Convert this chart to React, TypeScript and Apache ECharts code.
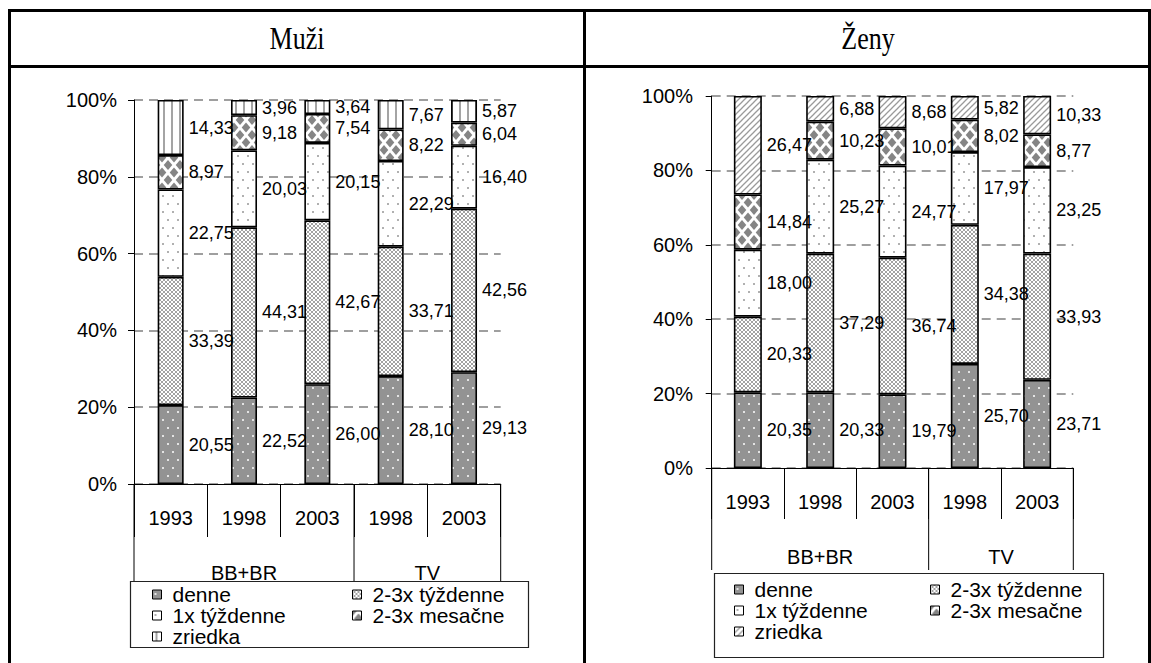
import React, { useEffect, useRef } from "react";
import * as echarts from "echarts";

// ---------- data ----------
const years = ["1993", "1998", "2003", "1998", "2003"];
const groupNames = ["BB+BR", "TV"];
const groupSizes = [3, 2];
const seriesNames = ["denne", "2-3x týždenne", "1x týždenne", "2-3x mesačne", "zriedka"];
const yTicks = [0, 20, 40, 60, 80, 100];
const titles = ["Muži", "Ženy"];

const muziDenne = [20.55, 22.52, 26.0, 28.1, 29.13];
const muziTyzdenne23 = [33.39, 44.31, 42.67, 33.71, 42.56];
const muziTyzdenne1 = [22.75, 20.03, 20.15, 22.29, 16.4];
const muziMesacne = [8.97, 9.18, 7.54, 8.22, 6.04];
const muziZriedka = [14.33, 3.96, 3.64, 7.67, 5.87];

const zenyDenne = [20.35, 20.33, 19.79, 25.7, 23.71];
const zenyTyzdenne23 = [20.33, 37.29, 36.74, 34.38, 33.93];
const zenyTyzdenne1 = [18.0, 25.27, 24.77, 17.97, 23.25];
const zenyMesacne = [14.84, 10.23, 10.01, 8.02, 8.77];
const zenyZriedka = [26.47, 6.88, 8.68, 5.82, 10.33];

// ---------- styles ----------
const FONT = "'Liberation Sans', Arial, sans-serif";
const SERIF = "'Liberation Serif', 'Times New Roman', serif";

function tile(w: number, h: number, draw: (ctx: CanvasRenderingContext2D) => void) {
  const c = document.createElement("canvas");
  c.width = w;
  c.height = h;
  const ctx = c.getContext("2d")!;
  ctx.fillStyle = "#ffffff";
  ctx.fillRect(0, 0, w, h);
  draw(ctx);
  return { image: c.toDataURL("image/png"), repeat: "repeat", imageWidth: w, imageHeight: h } as any;
}

function makePatterns(diagonal: boolean) {
  const denne = tile(10, 16, (ctx) => {
    ctx.fillStyle = "#939393";
    ctx.fillRect(0, 0, 10, 16);
    ctx.fillStyle = "#e4e4e4";
    ctx.fillRect(2, 3, 2, 2);
    ctx.fillRect(7, 11, 2, 2);
  });
  const t23 = tile(4, 4, (ctx) => {
    ctx.fillStyle = "#a2a2a2";
    for (let i = 0; i < 4; i++) {
      ctx.fillRect(i, i, 1, 1);
      ctx.fillRect(3 - i, i, 1, 1);
    }
  });
  const t1 = tile(10, 16, (ctx) => {
    ctx.fillStyle = "#b0b0b0";
    ctx.fillRect(2, 3, 2, 2);
    ctx.fillRect(7, 11, 2, 2);
  });
  const mes = tile(12, 15, (ctx) => {
    ctx.fillStyle = "#858585";
    const dia = (cx: number, cy: number) => {
      ctx.beginPath();
      ctx.moveTo(cx, cy - 5);
      ctx.lineTo(cx + 4.3, cy);
      ctx.lineTo(cx, cy + 5);
      ctx.lineTo(cx - 4.3, cy);
      ctx.closePath();
      ctx.fill();
    };
    dia(0, 0);
    dia(12, 0);
    dia(0, 15);
    dia(12, 15);
    dia(6, 7.5);
  });
  const zr = diagonal
    ? tile(6, 6, (ctx) => {
        ctx.strokeStyle = "#9a9a9a";
        ctx.lineWidth = 1.3;
        ctx.beginPath();
        ctx.moveTo(-1, 7);
        ctx.lineTo(7, -1);
        ctx.moveTo(-4, 4);
        ctx.lineTo(4, -4);
        ctx.moveTo(2, 10);
        ctx.lineTo(10, 2);
        ctx.stroke();
      })
    : tile(8, 4, (ctx) => {
        ctx.fillStyle = "#a4a4a4";
        ctx.fillRect(3, 0, 2, 4);
      });
  return [denne, t23, t1, mes, zr];
}

const fmt = (v: number) => v.toFixed(2).replace(".", ",");

type Cfg = {
  title: string;
  values: number[][];
  diagonal: boolean;
  grid: { left: number; top: number; width: number; height: number };
  barWidth: number;
  yLabelMargin: number;
  tickLen: number;
  groupBottom: number;
  groupLabelY: number;
  legendTop: number;
  legendPitch: number;
  legendCol1: number;
  legendCol2: number;
  box: { x: number; y: number; w: number; h: number };
  borders: { x: number; y: number; w: number; h: number }[];
  titleX: number;
};

const leftCfg: Cfg = {
  title: titles[0],
  values: [muziDenne, muziTyzdenne23, muziTyzdenne1, muziMesacne, muziZriedka],
  diagonal: false,
  grid: { left: 134, top: 100, width: 366.7, height: 384 },
  barWidth: 26,
  yLabelMargin: 17,
  tickLen: 53,
  groupBottom: 581,
  groupLabelY: 573,
  legendTop: 584,
  legendPitch: 20,
  legendCol1: 152,
  legendCol2: 352,
  box: { x: 130.5, y: 581.5, w: 398, h: 66 },
  borders: [
    { x: 8, y: 9, w: 578, h: 3 },
    { x: 8, y: 65, w: 578, h: 3 },
    { x: 8, y: 9, w: 3, h: 654 },
    { x: 583, y: 9, w: 3, h: 654 },
  ],
  titleX: 297,
};

const rightCfg: Cfg = {
  title: titles[1],
  values: [zenyDenne, zenyTyzdenne23, zenyTyzdenne1, zenyMesacne, zenyZriedka],
  diagonal: true,
  grid: { left: 125.7, top: 96, width: 361.6, height: 372 },
  barWidth: 28,
  yLabelMargin: 18.7,
  tickLen: 51,
  groupBottom: 570,
  groupLabelY: 557,
  legendTop: 579,
  legendPitch: 20,
  legendCol1: 148,
  legendCol2: 344,
  box: { x: 128.5, y: 573.5, w: 389, h: 84 },
  borders: [
    { x: 0, y: 9, w: 565, h: 3 },
    { x: 0, y: 65, w: 565, h: 3 },
    { x: 562, y: 9, w: 3, h: 654 },
  ],
  titleX: 282,
};

function renderChart(el: HTMLDivElement, cfg: Cfg) {
  const chart = echarts.init(el, undefined, { renderer: "svg" });
  const pats = makePatterns(cfg.diagonal);
  // 100% stacked: each column is scaled to its own total, labels keep the raw values
  const totals = years.map((_, j) => cfg.values.reduce((s, arr) => s + arr[j], 0));
  const legendCommon = {
    orient: "vertical",
    top: cfg.legendTop,
    itemWidth: 9,
    itemHeight: 9,
    itemGap: 0,
    padding: 0,
    icon: "rect",
    selectedMode: false,
    itemStyle: { borderColor: "#000", borderWidth: 1 },
    textStyle: {
      fontSize: 21,
      fontFamily: FONT,
      color: "#000",
      lineHeight: cfg.legendPitch,
      padding: [0, 0, 0, 6],
    },
  };
  const option: any = {
    animation: false,
    grid: { ...cfg.grid, containLabel: false },
    xAxis: {
      type: "category",
      data: years,
      axisLine: { show: true, lineStyle: { color: "#000", width: 1 } },
      axisTick: { show: true, alignWithLabel: false, length: cfg.tickLen, lineStyle: { color: "#000", width: 1 } },
      axisLabel: { interval: 0, margin: 24, color: "#000", fontSize: 20, fontFamily: FONT },
      splitLine: { show: false },
    },
    yAxis: {
      type: "value",
      min: yTicks[0],
      max: yTicks[yTicks.length - 1],
      interval: yTicks[1] - yTicks[0],
      axisLine: { show: true, lineStyle: { color: "#000", width: 1 } },
      axisTick: { show: true, length: 6, lineStyle: { color: "#000", width: 1 } },
      axisLabel: { formatter: "{value}%", margin: cfg.yLabelMargin, color: "#000", fontSize: 20, fontFamily: FONT },
      splitLine: { show: true, lineStyle: { color: "#808080", type: [9, 6], width: 1.5 } },
    },
    legend: [
      { ...legendCommon, left: cfg.legendCol1, data: [seriesNames[0], seriesNames[2], seriesNames[4]] },
      { ...legendCommon, left: cfg.legendCol2, data: [seriesNames[1], seriesNames[3]] },
    ],
    series: seriesNames.map((name, i) => ({
      name,
      type: "bar",
      stack: "total",
      barWidth: cfg.barWidth,
      data: cfg.values[i].map((v, j) => ({ value: (v / totals[j]) * 100, raw: v })),
      itemStyle: { color: pats[i], borderColor: "#000", borderWidth: 1.6 },
      label: {
        show: true,
        position: "right",
        distance: 5,
        color: "#000",
        fontSize: 18,
        fontFamily: FONT,
        formatter: (p: any) => fmt(p.data.raw),
      },
      emphasis: { disabled: true },
    })),
  };
  chart.setOption(option);

  // axis decorations (group row) computed from the axis scale
  const cx = (i: number) => chart.convertToPixel({ xAxisIndex: 0 }, i) as number;
  const step = cx(1) - cx(0);
  const bound = (k: number) => cx(0) - step / 2 + k * step;
  const axisY = chart.convertToPixel({ yAxisIndex: 0 }, 0) as number;
  const graphic: any[] = [];
  let acc = 0;
  const bounds = [0];
  groupSizes.forEach((s) => {
    acc += s;
    bounds.push(acc);
  });
  bounds.forEach((b) => {
    graphic.push({
      type: "line",
      shape: { x1: bound(b), y1: axisY, x2: bound(b), y2: cfg.groupBottom },
      style: { stroke: "#000", lineWidth: 1 },
    });
  });
  groupNames.forEach((g, gi) => {
    const mid = (bound(bounds[gi]) + bound(bounds[gi + 1])) / 2;
    graphic.push({
      type: "text",
      x: mid,
      y: cfg.groupLabelY,
      style: { text: g, fontSize: 20, fontFamily: FONT, fill: "#000", align: "center", verticalAlign: "middle" },
    });
  });
  graphic.push({
    type: "rect",
    shape: { x: cfg.box.x, y: cfg.box.y, width: cfg.box.w, height: cfg.box.h },
    style: { fill: "none", stroke: "#222", lineWidth: 1.2 },
    z: -1,
  });
  cfg.borders.forEach((r) => {
    graphic.push({ type: "rect", shape: { x: r.x, y: r.y, width: r.w, height: r.h }, style: { fill: "#000" } });
  });
  graphic.push({
    type: "text",
    x: cfg.titleX,
    y: 38,
    scaleY: 1.22,
    style: { text: cfg.title, fontSize: 26, fontFamily: SERIF, fill: "#000", align: "center", verticalAlign: "middle" },
  });
  chart.setOption({ graphic });
  return chart;
}

export default function App() {
  const leftRef = useRef<HTMLDivElement>(null);
  const rightRef = useRef<HTMLDivElement>(null);
  useEffect(() => {
    document.body.style.margin = "0";
    const charts = [renderChart(leftRef.current!, leftCfg), renderChart(rightRef.current!, rightCfg)];
    return () => charts.forEach((c) => c.dispose());
  }, []);
  return (
    <div style={{ position: "absolute", left: 0, top: 0, width: 1151, height: 663, background: "#fff" }}>
      <div ref={leftRef} style={{ position: "absolute", left: 0, top: 0, width: 586, height: 663 }} />
      <div ref={rightRef} style={{ position: "absolute", left: 586, top: 0, width: 565, height: 663 }} />
    </div>
  );
}
